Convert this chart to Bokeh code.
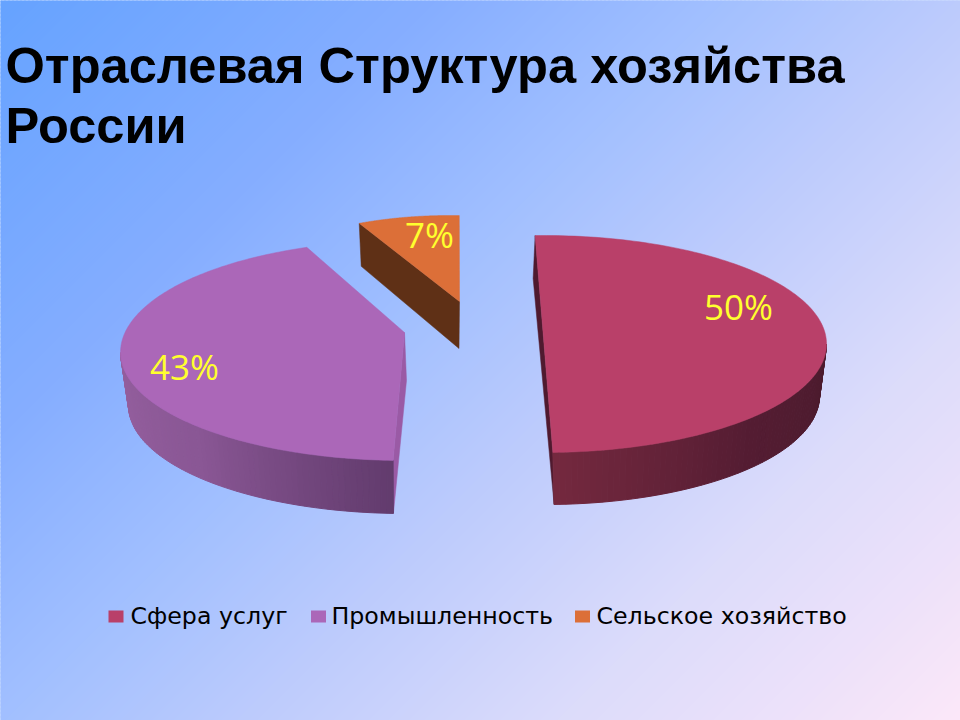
import numpy as np
from bokeh.plotting import figure
from bokeh.embed import file_html
from bokeh.resources import INLINE
from bokeh.core.properties import value

title_lines = ["Отраслевая Структура хозяйства", "России"]
categories = ["Сфера услуг", "Промышленность", "Сельское хозяйство"]
shares = [50, 43, 7]
share_labels = ["50%", "43%", "7%"]
top_colors = ["#b94069", "#ab67b8", "#dc6f38"]

W, H = 960, 720

# ---- rendering geometry (perspective of the 3D pie) ----
START = 91.8
ANGLE_SHIFT = [0.0, -4.1, -4.2]
SWEEP_STRETCH = [1.0, 1.018, 1.0]
# cx, cy, a, b lower half, b upper half
ELLIPSE = [(543.5, 343.5, 282.5, 108.5, 108.5), (404, 352, 284, 108, 112), (449, 315, 233, 100, 100)]
BASE = [(545, 395.5, 274, 108.5, 108.5), (404, 405, 276, 108, 108), None]
APEX_OFF = [None, (0, -20), (10, -14)]
APEX_DEPTH = [(2, 45), (2, 48), (-0.5, 47)]
REAR_DEPTH = [(-2, 43), None, (2, 43)]
SIDE_STOPS = [["#4b1b2d", "#551d33", "#74293f"], ["#96609f", "#8a5795", "#633c6e"], None]
CUT_COLORS = ["#4f1a2f", "#9a5aa5", "#5f3016"]

LEGEND_TEXT_X = [130, 331, 596]
LEGEND_MARK_X = [115.5, 318, 582]
LEGEND_Y = 616
LABEL_POS = [(738, 306), (184, 366), (429, 234)]

p = figure(width=W, height=H, x_range=(0, W), y_range=(H, 0),
           output_backend="svg", toolbar_location=None, min_border=0,
           outline_line_color=None, background_fill_color="#a8c5ff", border_fill_color=None)
p.xaxis.visible = False
p.yaxis.visible = False
p.grid.visible = False


def hex2rgb(h):
    return np.array([int(h[i:i + 2], 16) for i in (1, 3, 5)], dtype=float)


def to_hex(c):
    return "#%02x%02x%02x" % tuple(int(v) for v in c)


# background diagonal gradient, drawn as thin diagonal bands
stops_t = [0.0, 0.26, 0.43, 0.57, 0.76, 0.9, 1.0]
stops_c = ["#66a3ff", "#86aeff", "#a2c0ff", "#bccbfd", "#dcdcfb", "#eee2fa", "#fce8f9"]
stops_rgb = np.array([hex2rgb(c) for c in stops_c])
STEP = 4
band_x, band_y, band_c = [], [], []
for c0 in range(-STEP, W + H, STEP):
    c1 = c0 + STEP + 1
    band_x.append([c0 + 40, c1 + 40, c1 - (H + 40), c0 - (H + 40)])
    band_y.append([-40, -40, H + 40, H + 40])
    tt = (c0 + STEP / 2) / (W + H)
    band_c.append(to_hex([np.interp(tt, stops_t, stops_rgb[:, k]) for k in range(3)]))
p.patches(band_x, band_y, fill_color=band_c, line_color=None)


def mix(cols, f):
    pos = f * (len(cols) - 1)
    i = min(int(pos), len(cols) - 2)
    c = hex2rgb(cols[i]) * (1 - (pos - i)) + hex2rgb(cols[i + 1]) * (pos - i)
    return to_hex(c)


def pt(e, deg):
    r = np.radians(deg)
    s = np.sin(r)
    return e[0] + e[2] * np.cos(r), e[1] - np.where(s > 0, e[4], e[3]) * s


cum = 0.0
for i, share in enumerate(shares):
    t0 = (START - cum * 3.6 + ANGLE_SHIFT[i]) % 360
    t1 = t0 - share * 3.6 * SWEEP_STRETCH[i]
    cum += share
    e = ELLIPSE[i]
    apex = (e[0], e[1]) if APEX_OFF[i] is None else (e[0] + APEX_OFF[i][0], e[1] + APEX_OFF[i][1])
    angs = np.linspace(t0, t1, 160)
    ax, ay = pt(e, angs)
    s_x, s_y = pt(e, t0)
    f_x, f_y = pt(e, t1)

    # cut face
    if i == 0:
        bf = pt(BASE[0], t1)
        xs = [s_x, s_x + REAR_DEPTH[0][0], bf[0], f_x]
        ys = [s_y, s_y + REAR_DEPTH[0][1], bf[1], f_y]
    elif i == 1:
        bf = pt(BASE[1], t0)
        xs = [apex[0], apex[0] + APEX_DEPTH[1][0], bf[0], s_x]
        ys = [apex[1], apex[1] + APEX_DEPTH[1][1], bf[1], s_y]
    else:
        xs = [s_x, s_x + REAR_DEPTH[2][0], apex[0] + APEX_DEPTH[2][0], apex[0]]
        ys = [s_y, s_y + REAR_DEPTH[2][1], apex[1] + APEX_DEPTH[2][1], apex[1]]
    xs = [float(v) for v in xs]
    ys = [float(v) for v in ys]
    p.patch(xs, ys, fill_color=CUT_COLORS[i], line_color=CUT_COLORS[i], line_width=0.5)

    # curved rim, drawn as shaded strips
    if BASE[i] is not None:
        if i == 0:
            a0, a1 = 0.0, t1
        else:
            a0, a1 = 180.0, t0
        n = 70
        edges = np.linspace(a0, a1, n + 1)
        qx, qy, qc = [], [], []
        for j in range(n):
            ux0, uy0 = pt(e, edges[j])
            ux1, uy1 = pt(e, edges[j + 1])
            lx0, ly0 = pt(BASE[i], edges[j])
            lx1, ly1 = pt(BASE[i], edges[j + 1])
            qx.append([float(ux0), float(ux1), float(lx1), float(lx0)])
            qy.append([float(uy0), float(uy1), float(ly1), float(ly0)])
            qc.append(mix(SIDE_STOPS[i], j / (n - 1)))
        p.patches(qx, qy, fill_color=qc, line_color=qc, line_width=1.0)

    # top
    top_x = [apex[0]] + [float(v) for v in ax]
    top_y = [apex[1]] + [float(v) for v in ay]
    p.patch(top_x, top_y, fill_color=top_colors[i], line_color=top_colors[i], line_width=0.5)

    # data label
    p.text([LABEL_POS[i][0]], [LABEL_POS[i][1]], text=[share_labels[i]],
           text_font=value("Open Sans"), text_font_size="35px", text_color="#ffff2e",
           text_align="center", text_baseline="middle")

# title
p.text([5, 5], [64.5, 124.5], text=title_lines, text_font=value("Liberation Sans"),
       text_font_size="50.6px", text_font_style="bold", text_color="#000000",
       text_align="left", text_baseline="middle")

# legend
p.rect(LEGEND_MARK_X, [LEGEND_Y] * 3, width=15, height=12, fill_color=top_colors, line_color=None)
p.text(LEGEND_TEXT_X, [615] * 3, text=categories, text_font=value("DejaVu Sans"),
       text_font_size="23.7px", text_color="#000000", text_align="left", text_baseline="middle")

open("out.html", "w").write(file_html(p, INLINE))
